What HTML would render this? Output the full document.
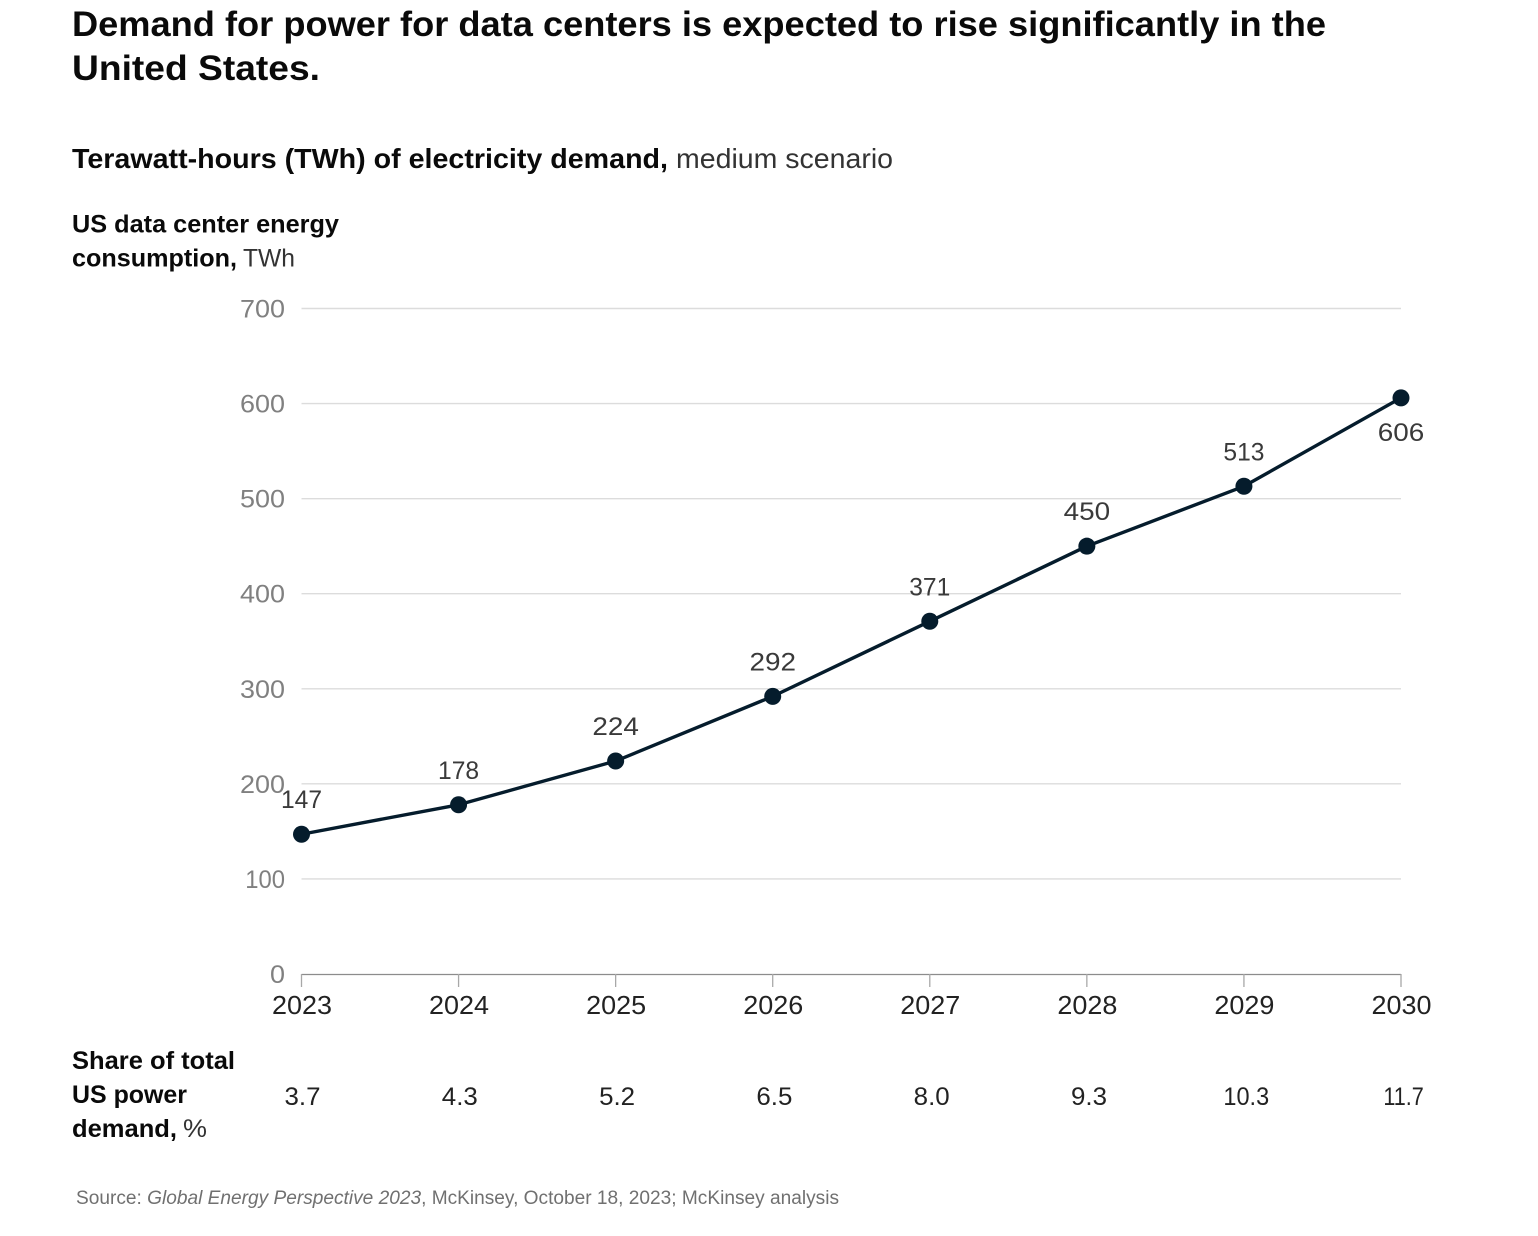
<!DOCTYPE html>
<html lang="en">
<head>
<meta charset="utf-8">
<title>Demand for power for data centers</title>
<style>
html,body{margin:0;padding:0;background:#fff;width:1538px;height:1236px;overflow:hidden}
svg{display:block}
text{font-family:"Liberation Sans",sans-serif}
.b{font-weight:700;fill:#0a0a0a}
.r{fill:#333}
</style>
</head>
<body>
<svg id="chart" width="1538" height="1236" viewBox="0 0 1538 1236" xmlns="http://www.w3.org/2000/svg">
  <g>
    <text class="b" x="72" y="36" font-size="35" textLength="1254" lengthAdjust="spacingAndGlyphs">Demand for power for data centers is expected to rise significantly in the</text>
    <text class="b" x="72" y="80" font-size="35" textLength="248" lengthAdjust="spacingAndGlyphs">United States.</text>
  </g>
  <g>
    <text class="b" x="72" y="168" font-size="28" textLength="596" lengthAdjust="spacingAndGlyphs">Terawatt-hours (TWh) of electricity demand,</text>
    <text class="r" x="676" y="168" font-size="28" textLength="217" lengthAdjust="spacingAndGlyphs">medium scenario</text>
  </g>
  <g>
    <text class="b" x="72" y="232.5" font-size="25" textLength="267" lengthAdjust="spacingAndGlyphs">US data center energy</text>
    <text class="b" x="72" y="266.5" font-size="25" textLength="165" lengthAdjust="spacingAndGlyphs">consumption,</text>
    <text class="r" x="243" y="266.5" font-size="25" textLength="52" lengthAdjust="spacingAndGlyphs">TWh</text>
  </g>
  <g id="grid"></g>
  <g id="yticks"></g>
  <g id="xaxis"></g>
  <g id="series"></g>
  <g id="labels"></g>
  <g>
    <text class="b" x="72" y="1069" font-size="25" textLength="163" lengthAdjust="spacingAndGlyphs">Share of total</text>
    <text class="b" x="72" y="1103" font-size="25" textLength="115" lengthAdjust="spacingAndGlyphs">US power</text>
    <text class="b" x="72" y="1137" font-size="25" textLength="105" lengthAdjust="spacingAndGlyphs">demand,</text>
    <text class="r" x="183" y="1137" font-size="25" textLength="24" lengthAdjust="spacingAndGlyphs">%</text>
  </g>
  <g id="shares"></g>
  <text x="76" y="1204" font-size="19" fill="#707070" textLength="763" lengthAdjust="spacingAndGlyphs">Source: <tspan font-style="italic">Global Energy Perspective 2023</tspan>, McKinsey, October 18, 2023; McKinsey analysis</text>
</svg>
<script>
const years = ["2023","2024","2025","2026","2027","2028","2029","2030"];
const demand = [147,178,224,292,371,450,513,606];
const shares = ["3.7","4.3","5.2","6.5","8.0","9.3","10.3","11.7"];
const yTicks = [0,100,200,300,400,500,600,700];

const NS = "http://www.w3.org/2000/svg";
const xScale = i => 301.5 + i * (1401 - 301.5) / (years.length - 1);
const shareX = i => 302.5 + i * 157.3;
const yScale = v => 974 - v * (974 - 308.5) / 700;
// approximate advance of a numeric string in the reference's typeface
const numWidth = (s, digit) => [...String(s)].reduce((w, c) => w + (c === "." ? 6 : c === "1" ? digit * 0.65 : digit), 0);

function mk(tag, parent, attrs, txt) {
  const el = document.createElementNS(NS, tag);
  for (const k in attrs) el.setAttribute(k, attrs[k]);
  if (txt !== undefined) el.textContent = txt;
  parent.appendChild(el);
  return el;
}
const grid = document.getElementById("grid");
const yt = document.getElementById("yticks");
yTicks.forEach(t => {
  if (t > 0) {
    const g = mk("line", grid, {x1:301.5, x2:1401, y1:yScale(t), y2:yScale(t), stroke:"#dcdcdc", "stroke-width":1.4});
    
    
  }
  const l = mk("text", yt, {x:285, y:yScale(t) + 9, "text-anchor":"end", "font-size":25, fill:"#808080", textLength:numWidth(t, 15), lengthAdjust:"spacingAndGlyphs"}, t);
  
  
});
const xa = document.getElementById("xaxis");
const axisLine = mk("line", xa, {x1:301.5, x2:1401, y1:974.5, y2:974.5, stroke:"#8c8c8c", "stroke-width":1.3});


years.forEach((yr, i) => {
  const tk = mk("line", xa, {x1:xScale(i), x2:xScale(i), y1:974, y2:987, stroke:"#a8a8a8", "stroke-width":1.3});
  
  
  const l = mk("text", xa, {x:xScale(i) + 0.5, y:1014, "text-anchor":"middle", "font-size":26, fill:"#222", textLength:numWidth(yr.replace(/1/g,"0"), 15), lengthAdjust:"spacingAndGlyphs"}, yr);
  
  
});
const s = document.getElementById("series");
const line = mk("polyline", s, {points:demand.map((v,i)=>xScale(i)+","+yScale(v)).join(" "), fill:"none", stroke:"#051c2c", "stroke-width":3.4, "stroke-linejoin":"round"});


const lab = document.getElementById("labels");
demand.forEach((v, i) => {
  const c = mk("circle", s, {cx:xScale(i), cy:yScale(v), r:8.5, fill:"#051c2c"});
  
  
  const last = i === demand.length - 1;
  const t = mk("text", lab, {x:xScale(i), y:yScale(v) + (last ? 43 : -26), "text-anchor":"middle", "font-size":25, fill:"#3a3a3a", textLength:numWidth(v, 15.5), lengthAdjust:"spacingAndGlyphs"}, v);
  
  
});
const sh = document.getElementById("shares");
shares.forEach((v, i) => {
  const t = mk("text", sh, {x:shareX(i), y:1105, "text-anchor":"middle", "font-size":25, fill:"#222", textLength:numWidth(v, 15), lengthAdjust:"spacingAndGlyphs"}, v);
  
  
});
</script>
</body>
</html>
